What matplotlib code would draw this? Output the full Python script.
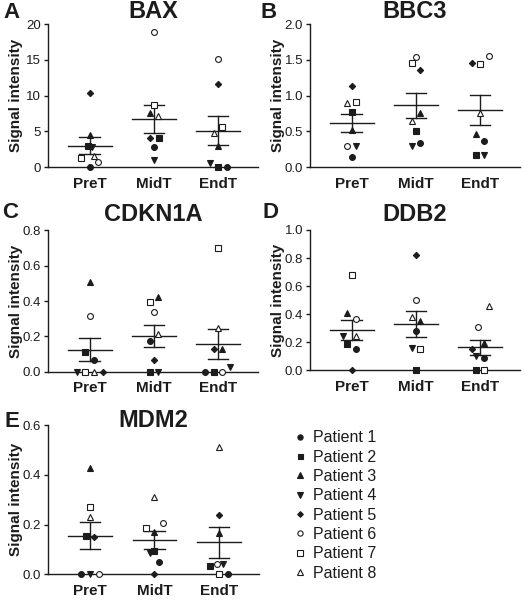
import numpy as np
import matplotlib
matplotlib.use("Agg")
import matplotlib.pyplot as plt
from matplotlib.lines import Line2D

plt.rcParams['font.family'] = ['Liberation Sans', 'DejaVu Sans']

# ---------------- data ----------------
genes = ["BAX", "BBC3", "CDKN1A", "DDB2", "MDM2"]
panel_letters = ["A", "B", "C", "D", "E"]
timepoints = ["PreT", "MidT", "EndT"]
patients = ["Patient 1", "Patient 2", "Patient 3", "Patient 4",
            "Patient 5", "Patient 6", "Patient 7", "Patient 8"]

# values per timepoint, patients 1..8
bax = [[0, 2.9, 4.5, 2.8, 10.4, 0.7, 1.2, 1.6],
       [2.8, 4.07, 7.5, 0.93, 4.07, 18.9, 8.7, 7.2],
       [0, 0, 3.0, 0.5, 11.7, 15.2, 5.6, 4.7]]
bbc3 = [[0.145, 0.776, 0.52, 0.294, 1.136, 0.294, 0.916, 0.90],
        [0.341, 0.51, 0.752, 0.294, 1.36, 1.537, 1.453, 0.65],
        [0.369, 0.164, 0.463, 0.164, 1.463, 1.561, 1.444, 0.752]]
cdkn1a = [[0.066, 0.113, 0.509, 0, 0, 0.315, 0, 0],
          [0.174, 0, 0.425, 0, 0.064, 0.338, 0.394, 0.211],
          [0, 0, 0.130, 0.028, 0.130, 0, 0.702, 0.249]]
ddb2 = [[0.150, 0.185, 0.406, 0.245, 0, 0.366, 0.677, 0.245],
        [0.280, 0, 0.354, 0.157, 0.822, 0.501, 0.150, 0.378],
        [0.086, 0, 0.197, 0.102, 0.150, 0.311, 0, 0.458]]
mdm2 = [[0, 0.154, 0.426, 0, 0.151, 0, 0.272, 0.232],
        [0.050, 0.094, 0.170, 0.087, 0, 0.205, 0.1875, 0.312],
        [0, 0.0335, 0.167, 0.0415, 0.238, 0.0415, 0, 0.513]]
values = [bax, bbc3, cdkn1a, ddb2, mdm2]

yticks = [[0, 5, 10, 15, 20],
          [0.0, 0.5, 1.0, 1.5, 2.0],
          [0.0, 0.2, 0.4, 0.6, 0.8],
          [0.0, 0.2, 0.4, 0.6, 0.8, 1.0],
          [0.0, 0.2, 0.4, 0.6]]
ytick_fmt = ["{:.0f}", "{:.1f}", "{:.1f}", "{:.1f}", "{:.1f}"]

# horizontal jitter (in steps) per gene, timepoint, patient
jitter = [
    [[0, -0.5, 0, 0.5, 0, 2, -2, 1],
     [0, 1.2, -1, 0, -1, 0, 0, 1],
     [2, 0, 0, -2, 0, 0, 1, -1]],
    [[0, 0, 0, 1, 0, -1, 1, -1],
     [1, 0, 1, -1, 1, 0, -1, -1],
     [1, -1, -1, 1, -2, 2, 0, 0]],
    [[1, -1, 0, -3, 3, 0, -1, 1],
     [-1, -1, 1, 1, 0, 0, -1, 1],
     [-3, -1, 1, 2.7, -1, 1, 0, 0]],
    [[1, -1, -1, -2, 0, 1, 0, 1],
     [0, 0, 1, -1, 0, 0, 1, -1],
     [1, -1, 1, -1, -2, -0.5, 1, 2]],
    [[-2, -1, 0, 0, 1, 2, 0, 0],
     [1, 0, 0, -1, 0, 2, -2, 0],
     [2, -2, 0, 1, 0, -0.5, 0, 0]],
]

# ---------------- style ----------------
W, H = 524, 603
INK = "#1c1c1c"
markers = ['o', 's', '^', 'v', 'D', 'o', 's', '^']
filled = [True, True, True, True, True, False, False, False]
msizes = [4.2, 4.0, 4.4, 4.4, 3.2, 4.2, 4.2, 4.4]
step = 0.067

# axes boxes in pixels: left, top, right, bottom
boxes = [(48, 24.3, 258, 167),
         (310, 24.3, 520, 167),
         (48, 230.3, 258, 371.7),
         (310, 230, 520, 370.3),
         (48, 425, 259, 574.3)]
title_pos = [(153, 18), (415, 18), (153, 221), (415, 221), (153, 427)]
letter_pos = [(3, 18), (261, 18), (2, 218), (263, 218), (4, 427)]

fig = plt.figure(figsize=(W / 100, H / 100), dpi=100)

for g in range(5):
    l, t, r, b = boxes[g]
    ax = fig.add_axes([l / W, 1 - b / H, (r - l) / W, (b - t) / H])
    ymax = yticks[g][-1]
    ax.set_xlim(-0.65, 2.62)
    ax.set_ylim(0, ymax)
    for s in ['top', 'right']:
        ax.spines[s].set_visible(False)
    for s in ['left', 'bottom']:
        ax.spines[s].set_color(INK)
        ax.spines[s].set_linewidth(1.0)
    ax.set_yticks(yticks[g])
    ax.set_yticklabels([ytick_fmt[g].format(v) for v in yticks[g]],
                       fontsize=9.5, color=INK)
    ax.tick_params(axis='y', length=3, width=1.0, color=INK, pad=2)
    ax.set_xticks(range(3))
    ax.set_xticklabels(timepoints, fontsize=11, fontweight='bold', color=INK)
    ax.tick_params(axis='x', length=0, pad=7)
    ax.set_ylabel("Signal intensity", fontsize=11, fontweight='bold', color=INK)
    ax.yaxis.set_label_coords(-0.12, 0.5)

    for ti in range(3):
        vals = np.array(values[g][ti], dtype=float)
        for p in range(8):
            xx = ti + jitter[g][ti][p] * step
            ax.plot(xx, vals[p], linestyle='none', marker=markers[p],
                    markersize=msizes[p],
                    markerfacecolor=INK if filled[p] else 'white',
                    markeredgecolor=INK, markeredgewidth=0.8,
                    clip_on=False, zorder=3)
        m = vals.mean()
        sem = vals.std(ddof=1) / np.sqrt(len(vals))
        ax.plot([ti - 0.34, ti + 0.34], [m, m], color=INK, lw=1.0, zorder=2)
        ax.plot([ti - 0.16, ti + 0.16], [m + sem, m + sem], color=INK, lw=1.0, zorder=2)
        ax.plot([ti - 0.16, ti + 0.16], [m - sem, m - sem], color=INK, lw=1.0, zorder=2)
        ax.plot([ti, ti], [m - sem, m + sem], color=INK, lw=1.0, zorder=2)

    tx, ty = title_pos[g]
    fig.text(tx / W, 1 - ty / H, genes[g], fontsize=17, fontweight='bold',
             color=INK, ha='center', va='baseline')
    lx, ly = letter_pos[g]
    fig.text(lx / W, 1 - ly / H, panel_letters[g], fontsize=16, fontweight='bold',
             color=INK, ha='left', va='baseline')

handles = [Line2D([], [], linestyle='none', marker=markers[p], markersize=msizes[p] * 0.9,
                  markerfacecolor=INK if filled[p] else 'white',
                  markeredgecolor=INK, markeredgewidth=0.8)
           for p in range(8)]
fig.legend(handles, patients, loc='upper left',
           bbox_to_anchor=(289 / W, 1 - 424 / H), frameon=False,
           fontsize=11.5, handlelength=0.6, handletextpad=0.5,
           labelspacing=0.27, borderaxespad=0, labelcolor=INK)

fig.savefig("out.png", dpi=100)
